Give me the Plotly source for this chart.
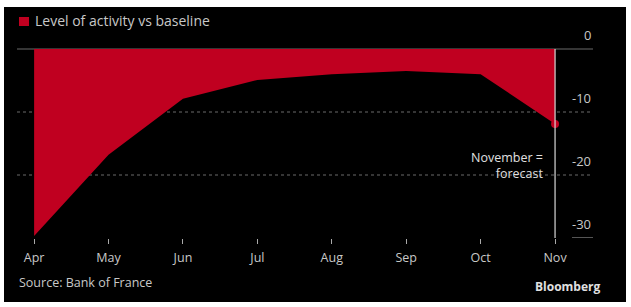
import plotly.graph_objects as go

months = ["Apr", "May", "Jun", "Jul", "Aug", "Sep", "Oct", "Nov"]
activity = [-29.7, -16.8, -7.9, -4.9, -4.0, -3.5, -4.0, -11.9]
y_ticks = [0, -10, -20, -30]
y_tick_text = ["0", "-10", "-20", "-30"]

RED = "#c00020"
GRID = "#6a6a6a"
TXT = "#c8c8c8"
FONT = "Open Sans"

W, H = 631, 307
L, R, T, B = 17, 38, 40, 69
pw, ph = W - L - R, H - T - B


def px(x):
    return (x - L) / pw


def py(y):
    return (H - B - y) / ph


xi = list(range(len(months)))

fig = go.Figure()
fig.add_trace(go.Scatter(
    x=xi, y=activity, mode="lines", fill="tozeroy",
    fillcolor=RED, line=dict(width=0, color=RED), hoverinfo="skip",
))
fig.add_trace(go.Scatter(
    x=[xi[-1]], y=[activity[-1]], mode="markers",
    marker=dict(size=8, color=RED), hoverinfo="skip",
))

shapes = [
    dict(type="rect", xref="paper", yref="paper", x0=px(4), x1=px(626),
         y0=py(302), y1=py(7), fillcolor="black", line=dict(width=0), layer="below"),
    dict(type="line", xref="paper", yref="y", x0=0, x1=1, y0=0, y1=0,
         line=dict(color=GRID, width=1), layer="below"),
    dict(type="line", xref="paper", yref="y", x0=0, x1=1, y0=-10, y1=-10,
         line=dict(color=GRID, width=1, dash="dot"), layer="below"),
    dict(type="line", xref="paper", yref="y", x0=0, x1=1, y0=-20, y1=-20,
         line=dict(color=GRID, width=1, dash="dot"), layer="below"),
    dict(type="line", xref="paper", yref="y", x0=px(572), x1=1, y0=-30, y1=-30,
         line=dict(color="#aaaaaa", width=1)),
    dict(type="line", xref="x", yref="y", x0=xi[-1], x1=xi[-1], y0=0, y1=-30,
         line=dict(color="#d8d8d8", width=1.2)),
    dict(type="rect", xref="paper", yref="paper", x0=px(19), x1=px(29),
         y0=py(26), y1=py(17), fillcolor=RED, line=dict(width=0)),
]

annotations = [
    dict(xref="paper", yref="paper", x=px(33), y=py(21), xanchor="left", yanchor="middle",
         text="Level of activity vs baseline", showarrow=False,
         font=dict(family=FONT, size=14, color=TXT)),
    dict(xref="paper", yref="paper", x=px(17), y=py(282), xanchor="left", yanchor="middle",
         text="Source: Bank of France", showarrow=False,
         font=dict(family=FONT, size=12.5, color=TXT)),
    dict(xref="paper", yref="paper", x=px(603), y=py(286), xanchor="right", yanchor="middle",
         text="<b>Bloomberg</b>", showarrow=False,
         font=dict(family=FONT, size=12, color="#e0e0e0")),
    dict(xref="paper", yref="paper", x=px(545), y=py(165), xanchor="right", yanchor="middle",
         text="November =<br>forecast", showarrow=False, align="right",
         font=dict(family=FONT, size=12.5, color="#e0e0e0")),
]
for v, t in zip(y_ticks, y_tick_text):
    annotations.append(dict(xref="paper", yref="y", x=1, y=v, xanchor="right",
                            yanchor="bottom", yshift=3, text=t, showarrow=False,
                            font=dict(family=FONT, size=13, color=TXT)))

fig.update_layout(
    width=W, height=H,
    margin=dict(l=L, r=R, t=T, b=B),
    paper_bgcolor="white", plot_bgcolor="black",
    showlegend=False,
    shapes=shapes, annotations=annotations,
    xaxis=dict(range=[-0.23, 7.51], tickvals=xi, ticktext=months,
               ticks="outside", ticklen=5, tickcolor="#aaaaaa", showgrid=False,
               zeroline=False, showline=False, fixedrange=True,
               ticklabelstandoff=3,
               tickfont=dict(family=FONT, size=12.5, color=TXT)),
    yaxis=dict(range=[-30, 1.43], showgrid=False, zeroline=False,
               showticklabels=False, showline=False, fixedrange=True),
)

fig.write_html("out.html", config={"displayModeBar": False})
